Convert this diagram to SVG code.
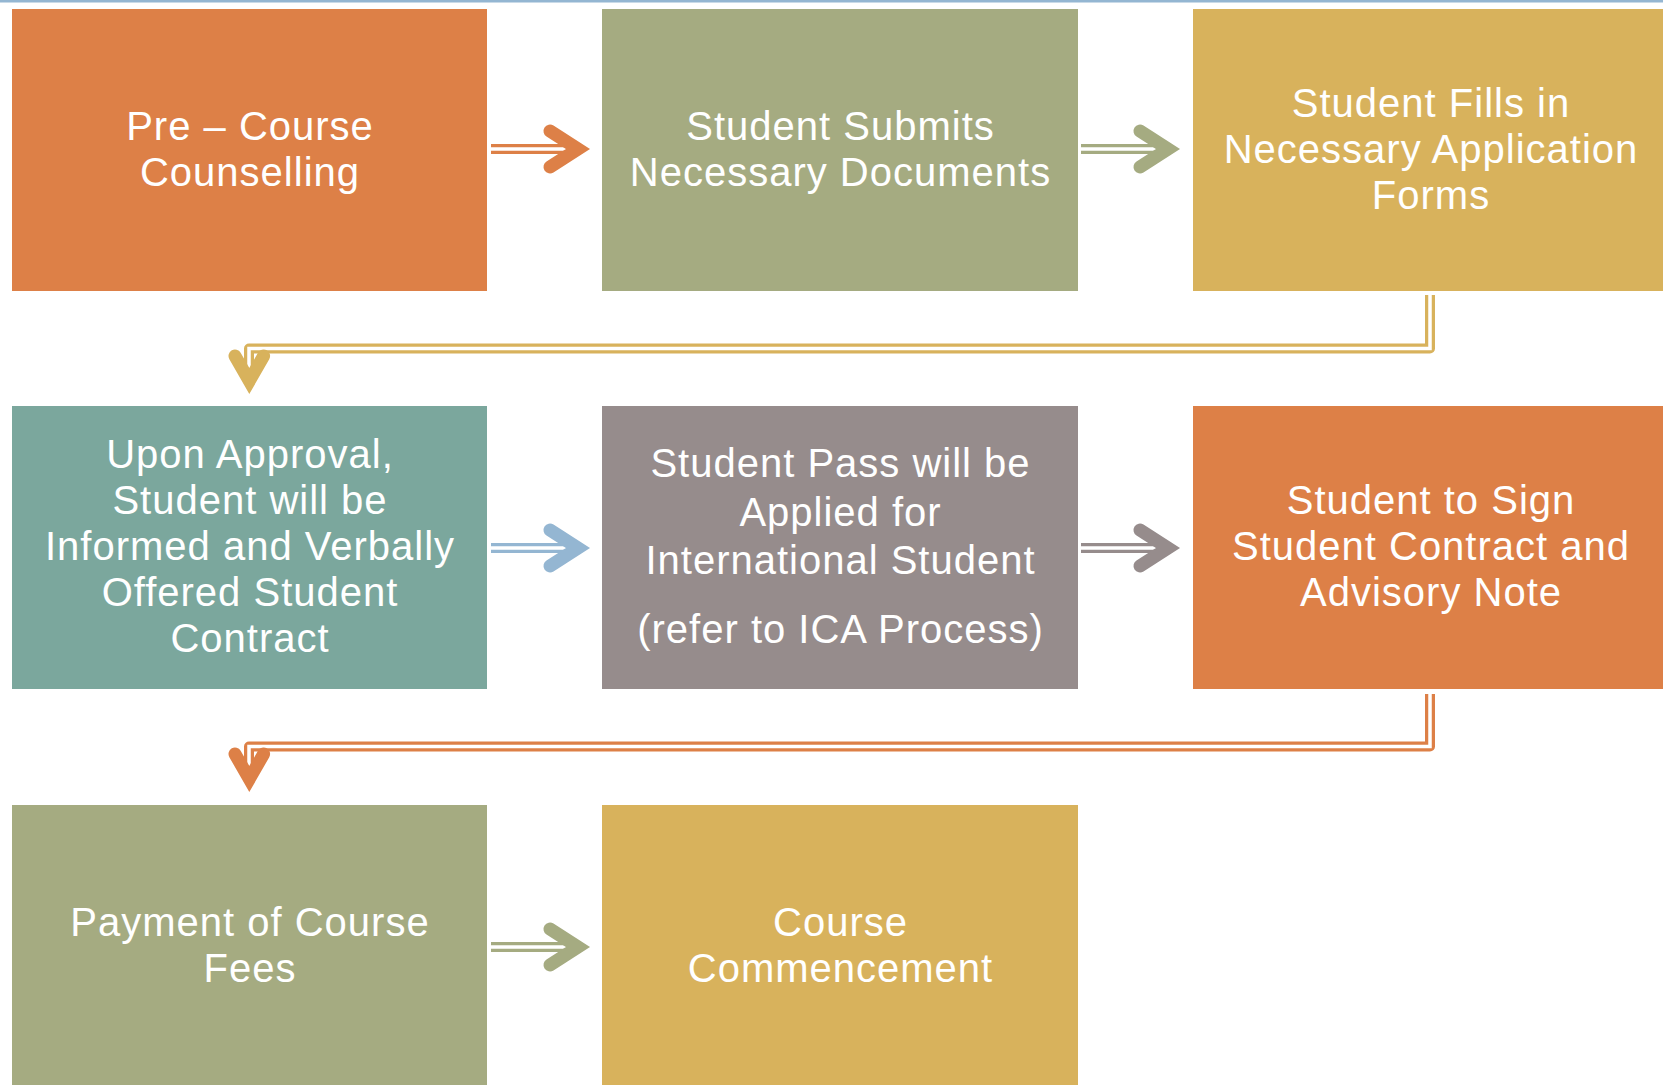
<svg xmlns="http://www.w3.org/2000/svg" width="1663" height="1085" viewBox="0 0 1663 1085">
<style>
.t{font-family:"Liberation Sans",Arial,sans-serif;font-size:40px;fill:#fff;text-anchor:middle;letter-spacing:1px}
.o{fill:none;stroke-width:10;stroke-linejoin:round}
.w{fill:none;stroke:#fff;stroke-width:3.5}
.h{fill:none;stroke-width:13;stroke-linecap:round;stroke-linejoin:miter;stroke-miterlimit:10}
</style>
<rect x="0" y="0" width="1663" height="1085" fill="#fff"/>
<rect x="0" y="0" width="1663" height="2.5" fill="#94B6D2"/>
<g id="n1"><rect x="12" y="9" width="475" height="282" fill="#DD8047"/>
<text class="t" x="250" y="140">Pre – Course</text><text class="t" x="250" y="186">Counselling</text></g>
<g id="n2"><rect x="602" y="9" width="476" height="282" fill="#A5AB81"/>
<text class="t" x="840.5" y="140">Student Submits</text><text class="t" x="840.5" y="186">Necessary Documents</text></g>
<g id="n3"><rect x="1193" y="9" width="475" height="282" fill="#D8B25C"/>
<text class="t" x="1431" y="117">Student Fills in</text><text class="t" x="1431" y="163">Necessary Application</text><text class="t" x="1431" y="209">Forms</text></g>
<g id="n4"><rect x="12" y="406" width="475" height="283" fill="#7BA79D"/>
<text class="t" x="250" y="468">Upon Approval,</text><text class="t" x="250" y="514">Student will be</text><text class="t" x="250" y="560">Informed and Verbally</text><text class="t" x="250" y="606">Offered Student</text><text class="t" x="250" y="652">Contract</text></g>
<g id="n5"><rect x="602" y="406" width="476" height="283" fill="#968C8C"/>
<text class="t" x="840.5" y="477">Student Pass will be</text><text class="t" x="840.5" y="526">Applied for</text><text class="t" x="840.5" y="574">International Student</text><text class="t" x="840.5" y="643">(refer to ICA Process)</text></g>
<g id="n6"><rect x="1193" y="406" width="475" height="283" fill="#DD8047"/>
<text class="t" x="1431" y="514">Student to Sign</text><text class="t" x="1431" y="560">Student Contract and</text><text class="t" x="1431" y="606">Advisory Note</text></g>
<g id="n7"><rect x="12" y="805" width="475" height="285" fill="#A5AB81"/>
<text class="t" x="250" y="936">Payment of Course</text><text class="t" x="250" y="982">Fees</text></g>
<g id="n8"><rect x="602" y="805" width="476" height="285" fill="#D8B25C"/>
<text class="t" x="840.5" y="936">Course</text><text class="t" x="840.5" y="982">Commencement</text></g>
<g id="connectors">
<g stroke="#DD8047"><path class="o" d="M491 149H572"/><path class="w" d="M491 149H570"/><path class="h" d="M550 131L578 149L550 167"/></g>
<g stroke="#A5AB81"><path class="o" d="M1081 149H1162"/><path class="w" d="M1081 149H1160"/><path class="h" d="M1140 131L1168 149L1140 167"/></g>
<g stroke="#D8B25C"><path class="o" d="M1430 295V348.5H249V375"/><path class="w" d="M1430 295V348.5H249V372"/><path class="h" d="M235 356L249.3 381L263.6 356"/></g>
<g stroke="#94B6D2"><path class="o" d="M491 548H572"/><path class="w" d="M491 548H570"/><path class="h" d="M550 530L578 548L550 566"/></g>
<g stroke="#968C8C"><path class="o" d="M1081 548H1162"/><path class="w" d="M1081 548H1160"/><path class="h" d="M1140 530L1168 548L1140 566"/></g>
<g stroke="#DD8047"><path class="o" d="M1430 694V746.5H249V773"/><path class="w" d="M1430 694V746.5H249V770"/><path class="h" d="M235 754L249.3 779L263.6 754"/></g>
<g stroke="#A5AB81"><path class="o" d="M491 947H572"/><path class="w" d="M491 947H570"/><path class="h" d="M550 929L578 947L550 965"/></g>
</g>
</svg>
